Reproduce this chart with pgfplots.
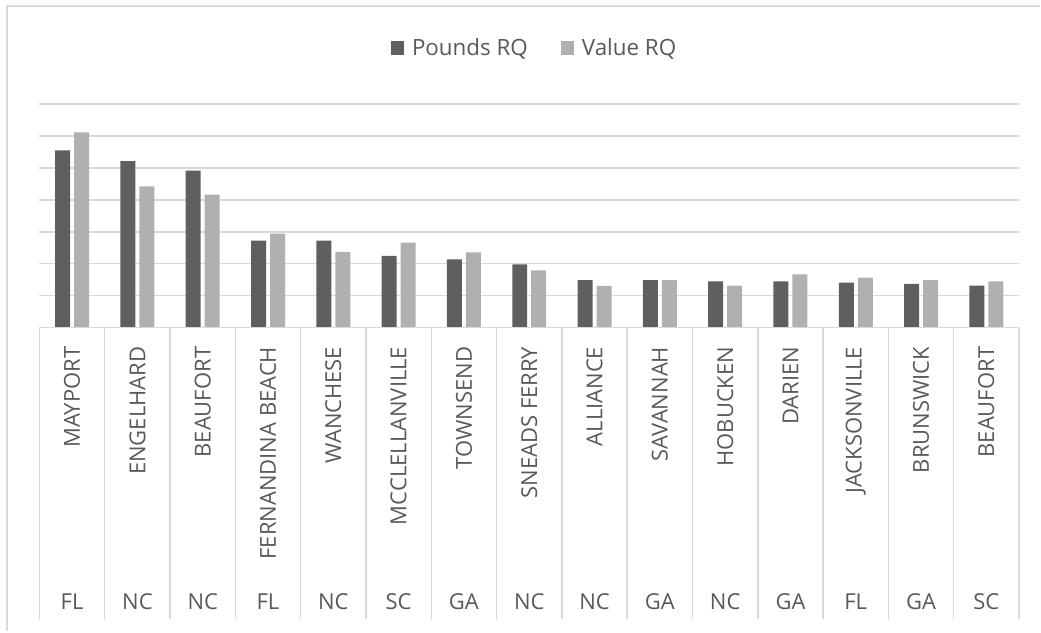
\documentclass[border=0pt]{standalone}
\usepackage{pgfplots}
\pgfplotsset{compat=1.18}
\usepackage{fontspec}
\setmainfont{Open Sans}
\definecolor{darkbar}{HTML}{5F5F5F}
\definecolor{lightbar}{HTML}{B0B0B0}
\definecolor{gridc}{HTML}{D9D9D9}
\definecolor{txt}{HTML}{595959}
\begin{document}
\begin{tikzpicture}
% picture frame: 1041 x 632 px at 0.75pt/px
\path (0pt,0pt) rectangle (780.75pt,-474pt);
\draw[gridc, line width=1.5pt] (5.25pt,-474pt) -- (5.25pt,-4.5pt) -- (780.75pt,-4.5pt);
\begin{axis}[
  at={(29.625pt,-246pt)}, anchor=south west,
  scale only axis, width=735.375pt, height=168pt,
  xmin=-0.5, xmax=14.5, ymin=0, ymax=7,
  enlargelimits=false, clip=false,
  ybar=3pt, bar width=11.25pt,
  legend image code/.code={\fill[#1,draw=none] (0pt,-4.9pt) rectangle (9.75pt,4.9pt); \path (13.5pt,0pt);},
  axis line style={draw=none},
  xtick=\empty,
  ytick={0,1,...,7}, yticklabels={},
  major tick length=0pt,
  ymajorgrids, grid style={gridc, line width=1.1pt},
  legend style={at={(0.506,1.25)}, anchor=center, draw=none, fill=none,
    legend columns=2, font=\fontsize{16.8pt}{18pt}\selectfont, text=txt,
    /tikz/every even column/.append style={column sep=23pt}},
]
\addplot[fill=darkbar, draw=none] coordinates {
(0,5.55) (1,5.21) (2,4.91) (3,2.72) (4,2.72) (5,2.25) (6,2.14) (7,1.98)
(8,1.49) (9,1.49) (10,1.45) (11,1.45) (12,1.41) (13,1.37) (14,1.32)};
\addplot[fill=lightbar, draw=none] coordinates {
(0,6.11) (1,4.42) (2,4.16) (3,2.94) (4,2.37) (5,2.66) (6,2.36) (7,1.79)
(8,1.31) (9,1.49) (10,1.32) (11,1.67) (12,1.57) (13,1.49) (14,1.45)};
\legend{Pounds RQ, Value RQ}
\draw[gridc, line width=1.1pt] (axis cs:-0.5,0) -- (axis cs:14.5,0);
\pgfplotsinvokeforeach{-0.5,0.5,...,14.5}{
  \draw[gridc, line width=1.1pt] (axis cs:#1,0) -- (axis cs:#1,-9.125);
}
\tikzset{city/.style={rotate=90, anchor=east, inner sep=0pt, text=txt, font=\fontsize{16.5pt}{18pt}\selectfont},
         st/.style={anchor=center, inner sep=0pt, text=txt, font=\fontsize{16.5pt}{18pt}\selectfont}}
\node[city] at (axis cs:0,-0.59) {MAYPORT};
\node[city] at (axis cs:1,-0.59) {ENGELHARD};
\node[city] at (axis cs:2,-0.59) {BEAUFORT};
\node[city] at (axis cs:3,-0.59) {FERNANDINA BEACH};
\node[city] at (axis cs:4,-0.59) {WANCHESE};
\node[city] at (axis cs:5,-0.59) {MCCLELLANVILLE};
\node[city] at (axis cs:6,-0.59) {TOWNSEND};
\node[city] at (axis cs:7,-0.59) {SNEADS FERRY};
\node[city] at (axis cs:8,-0.59) {ALLIANCE};
\node[city] at (axis cs:9,-0.59) {SAVANNAH};
\node[city] at (axis cs:10,-0.59) {HOBUCKEN};
\node[city] at (axis cs:11,-0.59) {DARIEN};
\node[city] at (axis cs:12,-0.59) {JACKSONVILLE};
\node[city] at (axis cs:13,-0.59) {BRUNSWICK};
\node[city] at (axis cs:14,-0.59) {BEAUFORT};
\node[st] at (axis cs:0,-8.585) {FL};
\node[st] at (axis cs:1,-8.585) {NC};
\node[st] at (axis cs:2,-8.585) {NC};
\node[st] at (axis cs:3,-8.585) {FL};
\node[st] at (axis cs:4,-8.585) {NC};
\node[st] at (axis cs:5,-8.585) {SC};
\node[st] at (axis cs:6,-8.585) {GA};
\node[st] at (axis cs:7,-8.585) {NC};
\node[st] at (axis cs:8,-8.585) {NC};
\node[st] at (axis cs:9,-8.585) {GA};
\node[st] at (axis cs:10,-8.585) {NC};
\node[st] at (axis cs:11,-8.585) {GA};
\node[st] at (axis cs:12,-8.585) {FL};
\node[st] at (axis cs:13,-8.585) {GA};
\node[st] at (axis cs:14,-8.585) {SC};
\end{axis}
\end{tikzpicture}
\end{document}
